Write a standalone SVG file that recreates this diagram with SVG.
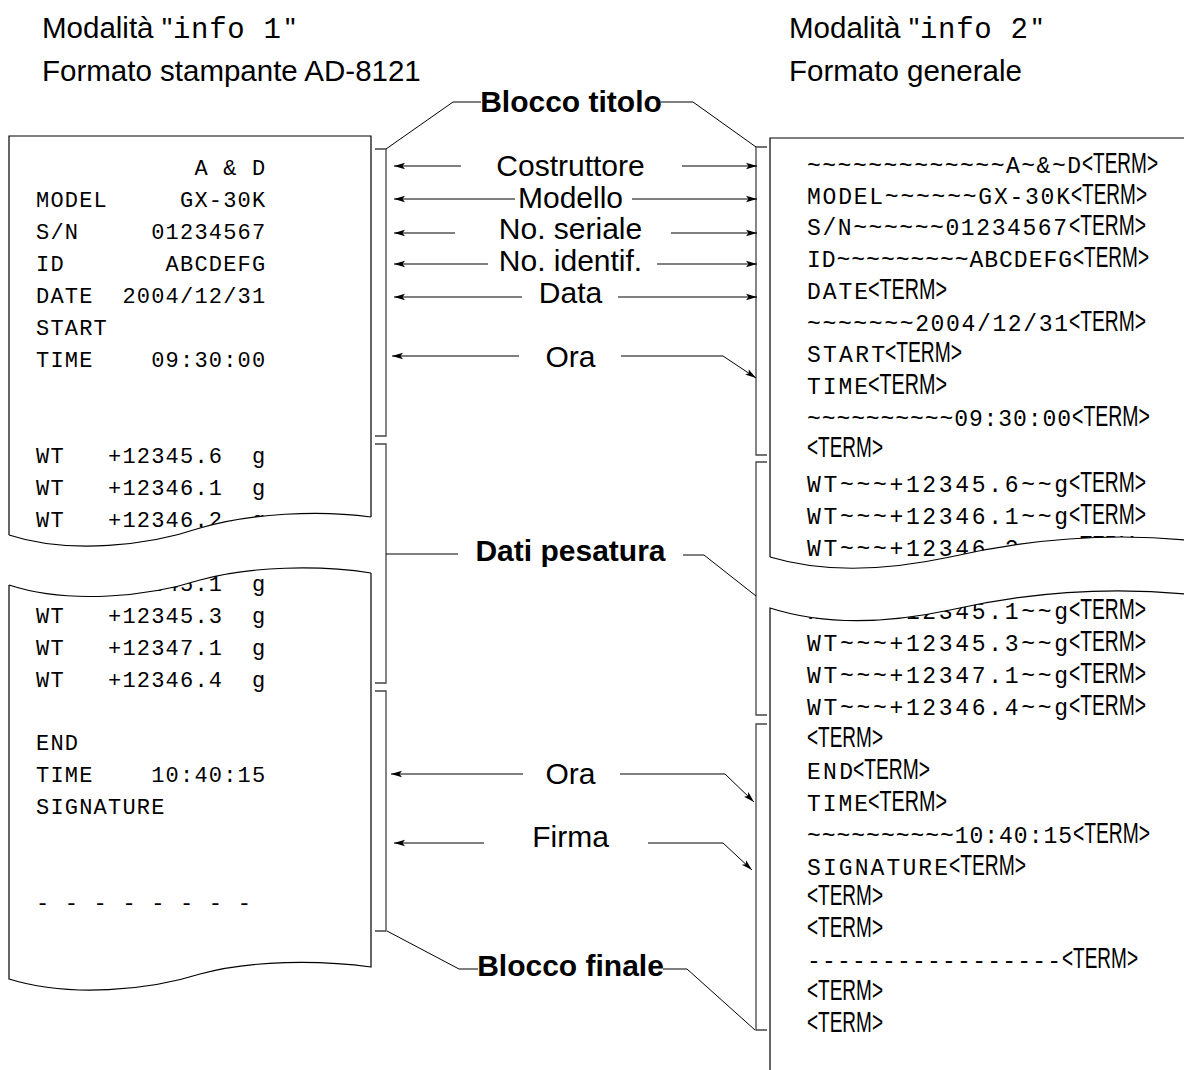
<svg xmlns="http://www.w3.org/2000/svg" width="1184" height="1070" viewBox="0 0 1184 1070">
<style>
.sans{font-family:"Liberation Sans",Arial,sans-serif;fill:#000}
.hdr{font-size:29.5px}
.lbl{font-size:30px;text-anchor:middle}
.bold{font-weight:bold}
.mono{font-family:"Liberation Mono","Courier New",monospace;fill:#000}
.lm{font-size:22px;letter-spacing:1.2px}
.rm{font-size:23px}
.term{font-family:"Liberation Sans",Arial,sans-serif;font-size:30px;fill:#000}
.paper{fill:none;stroke:#000;stroke-width:1.2}
.gap{fill:#fff;stroke:none}
.brk{fill:none;stroke:#444;stroke-width:1.3}
.lead{fill:none;stroke:#000;stroke-width:1}
.arr{fill:none;stroke:#000;stroke-width:1;marker-end:url(#ah)}
</style>
<defs>
<marker id="ah" markerWidth="12" markerHeight="8" refX="11" refY="4" orient="auto" markerUnits="userSpaceOnUse">
<path d="M0,0.8 L11,4 L0,7.2 L2.5,4 Z" fill="#000"/>
</marker>
</defs>
<rect width="1184" height="1070" fill="#fff"/>

<g id="headers">
<text class="sans hdr" x="42" y="38">Modalità "</text>
<text class="mono" font-size="29" x="173" y="38" textLength="108" lengthAdjust="spacing">info 1</text>
<text class="sans hdr" x="285" y="38">"</text>
<text class="sans hdr" x="42" y="81">Formato stampante AD-8121</text>
<text class="sans hdr" x="789" y="38">Modalità "</text>
<text class="mono" font-size="29" x="920" y="38" textLength="108" lengthAdjust="spacing">info 2</text>
<text class="sans hdr" x="1032" y="38">"</text>
<text class="sans hdr" x="789" y="81">Formato generale</text>
</g>

<g id="left-paper">
<g class="mono lm">
<text x="194.4" y="175">A &amp; D</text>
<text x="36" y="207">MODEL</text><text x="180" y="207">GX-30K</text>
<text x="36" y="239">S/N</text><text x="151.2" y="239">01234567</text>
<text x="36" y="271">ID</text><text x="165.6" y="271">ABCDEFG</text>
<text x="36" y="303">DATE</text><text x="122.4" y="303">2004/12/31</text>
<text x="36" y="335">START</text>
<text x="36" y="367">TIME</text><text x="151.2" y="367">09:30:00</text>
<text x="36" y="463">WT</text><text x="108" y="463">+12345.6</text><text x="252" y="463">g</text>
<text x="36" y="495">WT</text><text x="108" y="495">+12346.1</text><text x="252" y="495">g</text>
<text x="36" y="527">WT</text><text x="108" y="527">+12346.2</text><text x="252" y="527">g</text>
<text x="36" y="591">WT</text><text x="108" y="591">+12345.1</text><text x="252" y="591">g</text>
<text x="36" y="623">WT</text><text x="108" y="623">+12345.3</text><text x="252" y="623">g</text>
<text x="36" y="655">WT</text><text x="108" y="655">+12347.1</text><text x="252" y="655">g</text>
<text x="36" y="687">WT</text><text x="108" y="687">+12346.4</text><text x="252" y="687">g</text>
<text x="36" y="750">END</text>
<text x="36" y="782">TIME</text><text x="151.2" y="782">10:40:15</text>
<text x="36" y="814">SIGNATURE</text>
<text x="36" y="910">- - - - - - - -</text>
</g>
<path class="gap" d="M8,535 C70,555 150,545 200,528 C250,513 320,510 372,517 L372,573 C320,565 250,566 200,580 C150,596 70,605 8,585 Z"/>
<path class="paper" d="M9,535 L9,136 L371,136 L371,517"/>
<path class="paper" d="M9,535 C70,555 150,545 200,528 C250,513 320,510 371,517"/>
<path class="paper" d="M371,573 L371,967 C320,960 250,960 200,974 C150,990 70,998 9,979 L9,585"/>
<path class="paper" d="M9,585 C70,605 150,596 200,580 C250,566 320,565 371,573"/>
</g>

<g id="right-paper">
<g class="mono rm">
<text x="807" y="173" textLength="274" lengthAdjust="spacing">~~~~~~~~~~~~~A~&amp;~D</text>
<text x="807" y="204" textLength="263" lengthAdjust="spacing">MODEL~~~~~~GX-30K</text>
<text x="807" y="235" textLength="260" lengthAdjust="spacing">S/N~~~~~~01234567</text>
<text x="807" y="267" textLength="265" lengthAdjust="spacing">ID~~~~~~~~~ABCDEFG</text>
<text x="807" y="299" textLength="61" lengthAdjust="spacing">DATE</text>
<text x="807" y="331" textLength="261" lengthAdjust="spacing">~~~~~~~2004/12/31</text>
<text x="807" y="362" textLength="78" lengthAdjust="spacing">START</text>
<text x="807" y="394" textLength="61" lengthAdjust="spacing">TIME</text>
<text x="807" y="426" textLength="264" lengthAdjust="spacing">~~~~~~~~~~09:30:00</text>
<text x="807" y="492" textLength="261" lengthAdjust="spacing">WT~~~+12345.6~~g</text>
<text x="807" y="524" textLength="261" lengthAdjust="spacing">WT~~~+12346.1~~g</text>
<text x="807" y="556" textLength="261" lengthAdjust="spacing">WT~~~+12346.2~~g</text>
<text x="807" y="619" textLength="261" lengthAdjust="spacing">WT~~~+12345.1~~g</text>
<text x="807" y="651" textLength="261" lengthAdjust="spacing">WT~~~+12345.3~~g</text>
<text x="807" y="683" textLength="261" lengthAdjust="spacing">WT~~~+12347.1~~g</text>
<text x="807" y="715" textLength="261" lengthAdjust="spacing">WT~~~+12346.4~~g</text>
<text x="807" y="779" textLength="46" lengthAdjust="spacing">END</text>
<text x="807" y="811" textLength="61" lengthAdjust="spacing">TIME</text>
<text x="807" y="843" textLength="265" lengthAdjust="spacing">~~~~~~~~~~10:40:15</text>
<text x="807" y="875" textLength="141" lengthAdjust="spacing">SIGNATURE</text>
<text x="807" y="968" textLength="254" lengthAdjust="spacing">-----------------</text>
</g>
<g class="term">
<text x="1082" y="173" textLength="76" lengthAdjust="spacingAndGlyphs">&lt;TERM&gt;</text>
<text x="1071" y="204" textLength="76" lengthAdjust="spacingAndGlyphs">&lt;TERM&gt;</text>
<text x="1069" y="235" textLength="77" lengthAdjust="spacingAndGlyphs">&lt;TERM&gt;</text>
<text x="1073" y="267" textLength="76" lengthAdjust="spacingAndGlyphs">&lt;TERM&gt;</text>
<text x="868" y="299" textLength="79" lengthAdjust="spacingAndGlyphs">&lt;TERM&gt;</text>
<text x="1069" y="331" textLength="77" lengthAdjust="spacingAndGlyphs">&lt;TERM&gt;</text>
<text x="885" y="362" textLength="77" lengthAdjust="spacingAndGlyphs">&lt;TERM&gt;</text>
<text x="868" y="394" textLength="79" lengthAdjust="spacingAndGlyphs">&lt;TERM&gt;</text>
<text x="1072" y="426" textLength="78" lengthAdjust="spacingAndGlyphs">&lt;TERM&gt;</text>
<text x="807" y="457" textLength="76" lengthAdjust="spacingAndGlyphs">&lt;TERM&gt;</text>
<text x="1069" y="492" textLength="77" lengthAdjust="spacingAndGlyphs">&lt;TERM&gt;</text>
<text x="1069" y="524" textLength="77" lengthAdjust="spacingAndGlyphs">&lt;TERM&gt;</text>
<text x="1069" y="556" textLength="77" lengthAdjust="spacingAndGlyphs">&lt;TERM&gt;</text>
<text x="1069" y="619" textLength="77" lengthAdjust="spacingAndGlyphs">&lt;TERM&gt;</text>
<text x="1069" y="651" textLength="77" lengthAdjust="spacingAndGlyphs">&lt;TERM&gt;</text>
<text x="1069" y="683" textLength="77" lengthAdjust="spacingAndGlyphs">&lt;TERM&gt;</text>
<text x="1069" y="715" textLength="77" lengthAdjust="spacingAndGlyphs">&lt;TERM&gt;</text>
<text x="807" y="747" textLength="76" lengthAdjust="spacingAndGlyphs">&lt;TERM&gt;</text>
<text x="853" y="779" textLength="77" lengthAdjust="spacingAndGlyphs">&lt;TERM&gt;</text>
<text x="868" y="811" textLength="79" lengthAdjust="spacingAndGlyphs">&lt;TERM&gt;</text>
<text x="1073" y="843" textLength="77" lengthAdjust="spacingAndGlyphs">&lt;TERM&gt;</text>
<text x="949" y="875" textLength="77" lengthAdjust="spacingAndGlyphs">&lt;TERM&gt;</text>
<text x="807" y="905" textLength="76" lengthAdjust="spacingAndGlyphs">&lt;TERM&gt;</text>
<text x="807" y="937" textLength="76" lengthAdjust="spacingAndGlyphs">&lt;TERM&gt;</text>
<text x="1062" y="968" textLength="76" lengthAdjust="spacingAndGlyphs">&lt;TERM&gt;</text>
<text x="807" y="1000" textLength="76" lengthAdjust="spacingAndGlyphs">&lt;TERM&gt;</text>
<text x="807" y="1032" textLength="76" lengthAdjust="spacingAndGlyphs">&lt;TERM&gt;</text>
</g>
<path class="gap" d="M769,557 C820,572 880,572 950,557 C1020,541 1100,532 1186,540 L1186,594 C1100,586 1020,594 950,610 C880,625 820,624 769,608 Z"/>
<path class="paper" d="M770,557 L770,138 L1186,138"/>
<path class="paper" d="M770,557 C820,572 880,572 950,557 C1020,541 1100,532 1186,540"/>
<path class="paper" d="M770,1072 L770,608 C820,624 880,625 950,610 C1020,594 1100,586 1186,594"/>
</g>

<g id="labels">
<text class="sans lbl bold" x="571" y="112">Blocco titolo</text>
<text class="sans lbl" x="570.5" y="176">Costruttore</text>
<text class="sans lbl" x="570.5" y="208">Modello</text>
<text class="sans lbl" x="570.5" y="239">No. seriale</text>
<text class="sans lbl" x="570.5" y="271">No. identif.</text>
<text class="sans lbl" x="570.5" y="303">Data</text>
<text class="sans lbl" x="570.5" y="367">Ora</text>
<text class="sans lbl bold" x="570.5" y="561">Dati pesatura</text>
<text class="sans lbl" x="570.5" y="784">Ora</text>
<text class="sans lbl" x="570.5" y="847">Firma</text>
<text class="sans lbl bold" x="570.5" y="976">Blocco finale</text>
</g>

<g id="connectors">
<path class="brk" d="M375,149 H386 V436 H375"/>
<path class="brk" d="M375,444 H386 V683 H375"/>
<path class="brk" d="M375,691 H386 V931 H375"/>
<path class="brk" d="M767,147 H756 V455 H767"/>
<path class="brk" d="M767,462 H756 V715 H767"/>
<path class="brk" d="M767,724 H756 V1030 H767"/>
<path class="lead" d="M386,149 L453,102 H481"/>
<path class="lead" d="M661,102 H693 L756,147"/>
<path class="lead" d="M386,554 H458"/>
<path class="lead" d="M683,555 H704 L756,596"/>
<path class="lead" d="M387,931 L459,969 H478"/>
<path class="lead" d="M663,969 H687 L755,1030"/>
<line class="arr" x1="461" y1="166" x2="394" y2="166"/>
<line class="arr" x1="515" y1="199" x2="394" y2="199"/>
<line class="arr" x1="455" y1="233" x2="394" y2="233"/>
<line class="arr" x1="488" y1="264" x2="394" y2="264"/>
<line class="arr" x1="522" y1="297" x2="394" y2="297"/>
<line class="arr" x1="519" y1="356" x2="392" y2="356"/>
<line class="arr" x1="523" y1="774" x2="391" y2="774"/>
<line class="arr" x1="484" y1="843" x2="394" y2="843"/>
<line class="arr" x1="682" y1="166" x2="757" y2="166"/>
<line class="arr" x1="632" y1="199" x2="757" y2="199"/>
<line class="arr" x1="671" y1="233" x2="757" y2="233"/>
<line class="arr" x1="657" y1="264" x2="757" y2="264"/>
<line class="arr" x1="618" y1="297" x2="757" y2="297"/>
<path class="arr" d="M621,356 H723 L756,378"/>
<path class="arr" d="M620,774 H725 L754,802"/>
<path class="arr" d="M648,843 H723 L752,870"/>
</g>
</svg>
